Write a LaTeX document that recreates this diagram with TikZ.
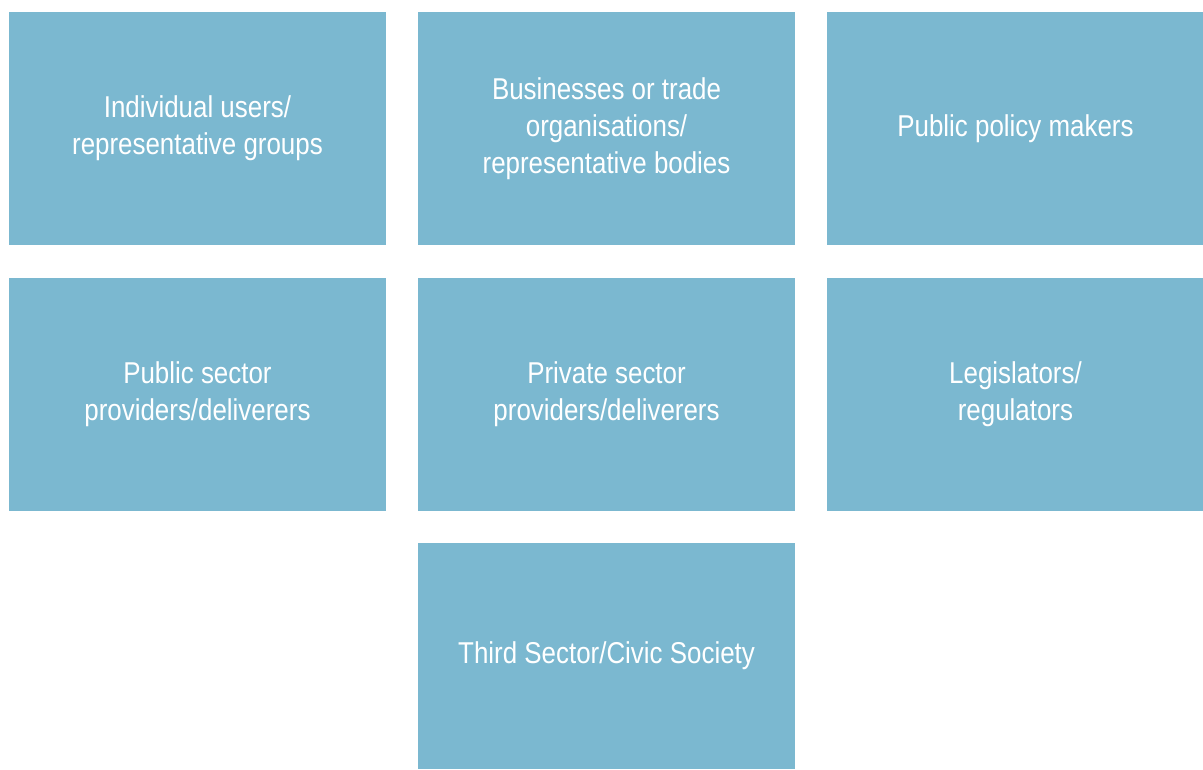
\documentclass[tikz,border=0pt]{standalone}
\usepackage{fontspec}
\setmainfont[FakeStretch=0.86]{Liberation Sans}
\usepackage{xcolor}
\usepackage{tikz}
\definecolor{boxblue}{RGB}{123,184,208}

\begin{document}
\begin{tikzpicture}[x=1pt,y=1pt,
    group/.style={fill=boxblue, text=white, minimum width=282.75pt, minimum height=174.75pt,
        align=center, font=\fontsize{22.6}{27.75}\selectfont, inner sep=0pt}]

    \useasboundingbox (0,0) rectangle (902.25,-576.75);

    % First row of stakeholder groups
    \node[group] (users) at (148.1, -96.4) {Individual users/\\representative groups};
    \node[group] (business) at (454.9, -96.4) {Businesses or trade\\organisations/\\representative bodies};
    \node[group] (policy) at (761.6, -96.4) {Public policy makers};

    % Second row
    \node[group] (public) at (148.1, -295.9) {Public sector\\providers/deliverers};
    \node[group] (private) at (454.9, -295.9) {Private sector\\providers/deliverers};
    \node[group] (legislators) at (761.6, -295.9) {Legislators/\\regulators};

    % Third row, centred under the middle column
    \node[group, minimum height=169.5pt] (third) at (454.9, -492) {Third Sector/Civic Society};

\end{tikzpicture}
\end{document}
